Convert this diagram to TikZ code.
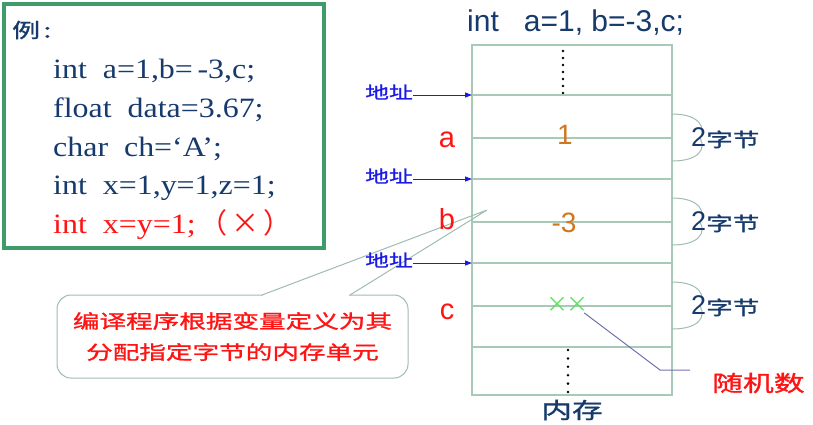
\documentclass[tikz,border=0pt]{standalone}
\usepackage{fontspec}
\setmainfont{Liberation Serif}[FakeStretch=1.14]
\newfontfamily\arialfont{Liberation Sans}
\newfontfamily\cjk[FakeStretch=1.4, FakeBold=1.2]{Noto Sans CJK SC}
\newfontfamily\cjkplain{Noto Sans CJK SC}
\usepackage{xcolor}
\usepackage{tikz}
\usetikzlibrary{arrows.meta}
\definecolor{codeblue}{HTML}{163A6C}
\definecolor{boxgreen}{HTML}{3F9B67}
\definecolor{tablegreen}{HTML}{A8C8B8}
\definecolor{bracegray}{HTML}{A0BCB0}
\definecolor{varred}{HTML}{FF1414}
\definecolor{valorange}{HTML}{D2761E}
\definecolor{arrowblue}{HTML}{1A1AE6}
\definecolor{crossgreen}{HTML}{66DD66}
\definecolor{randpurple}{HTML}{7070B0}
\tikzset{
codeline/.style = {anchor=base west, inner sep=0pt, text=codeblue, font=\fontsize{28}{28}\selectfont},
addr/.style = {anchor=east, inner sep=0pt, text=arrowblue, font=\cjk\fontsize{17}{17}\selectfont},
addrarrow/.style = {-{Triangle[length=7pt,width=5pt]}, draw=arrowblue, line width=1pt},
varname/.style = {inner sep=0pt, text=varred, font=\arialfont\fontsize{29}{29}\selectfont},
cellval/.style = {inner sep=0pt, text=valorange, font=\arialfont\fontsize{28}{28}\selectfont},
bytes/.style = {anchor=west, inner sep=0pt, text=codeblue, font=\cjk\fontsize{19}{19}\selectfont},
memline/.style = {draw=tablegreen, line width=1.2pt},
brace/.style = {draw=bracegray, line width=1pt},
}

\begin{document}
\begin{tikzpicture}[x=1pt, y=-1pt]
\useasboundingbox (0,0) rectangle (813,424);

% code example
\node[draw=boxgreen, line width=4pt, minimum width=320pt, minimum height=244pt, inner sep=0pt] (codebox) at (164,126) {};
\node[anchor=west, inner sep=0pt, text=codeblue, font=\cjk\fontsize{20}{20}\selectfont] (eg) at (12,30) {例\,:};
\node[codeline] (line1) at (53,78) {int\ \ a=1,b=\,-3,c;};
\node[codeline] (line2) at (53,117) {float\ \ data=3.67;};
\node[codeline] (line3) at (53,156) {char\ \ ch=‘A’;};
\node[codeline] (line4) at (53,194) {int\ \ x=1,y=1,z=1;};
\node[codeline, text=varred] (line5) at (53,233) {int\ \ x=y=1;\hspace{4pt}{\cjkplain （\hspace{4pt}{\fontsize{28}{28}\selectfont ×}\hspace{4pt}）}};

% memory
\node[anchor=base west, inner sep=0pt, text=codeblue, font=\arialfont\fontsize{30}{30}\selectfont] (title) at (467,31) {int\ \ \ a=1, b=-3,c;};
\node[draw=tablegreen, line width=1.2pt, minimum width=200pt, minimum height=350pt, inner sep=0pt] (mem) at (572,220) {};
\foreach \y in {51,58,...,93}
    \fill (563,\y) circle (1.4);
\foreach \y in {350,358.4,...,393}
    \fill (568,\y) circle (1.4);
\foreach \y in {95,138,179,222,263,306,347}
    \draw[memline] (472,\y) -- (672,\y);

% callout
\node[draw=bracegray, line width=1pt, fill=white, rounded corners=14pt, minimum width=351pt, minimum height=83pt, align=center, text=varred, font=\cjk\fontsize{19}{31}\selectfont] (note) at (232.5,336.5) {编译程序根据变量定义为其\\分配指定字节的内存单元};
\coordinate (tip) at (487,210);
\coordinate (pl) at (262,295);
\coordinate (pr) at (350,295);
\fill[white] (263,292) rectangle (349,298);
\draw[draw=bracegray, line width=1pt] (pl) -- (tip) -- (pr);

% addresses
\node[addr] (addr1) at (413,92) {地址};
\node[addr] (addr2) at (413,176) {地址};
\node[addr] (addr3) at (413,260) {地址};
\coordinate (in1) at (472,95);
\coordinate (in2) at (472,179);
\coordinate (in3) at (472,263);
\draw[addrarrow] (addr1.east |- in1) -- (in1);
\draw[addrarrow] (addr2.east |- in2) -- (in2);
\draw[addrarrow] (addr3.east |- in3) -- (in3);

\node[varname] (va) at (447,140) {a};
\node[varname] (vb) at (447,219) {b};
\node[varname] (vc) at (447,312) {c};
\node[cellval] (val1) at (565,135) {1};
\node[cellval] (val2) at (564,223) {-3};
\node[inner sep=0pt, text=crossgreen, font=\cjkplain\fontsize{22}{22}\selectfont] (rand) at (567,305) {×\hspace{-2pt}×};

% 2 bytes each
\foreach \y in {138,222,306} {
    \draw[brace] (672,\y-24) .. controls (700,\y-24) and (706,\y-10) .. (700,\y) .. controls (706,\y+10) and (700,\y+23) .. (672,\y+23);
    \node[bytes] at (691,\y) {{\arialfont\fontsize{27}{27}\selectfont 2}字节};
}

\coordinate (bend) at (660,370);
\coordinate (tail) at (690,370);
\draw[draw=randpurple, line width=1pt] ([xshift=-4pt]rand.south east) -- (bend) -- (tail);
\node[anchor=west, inner sep=0pt, text=varred, font=\cjk\fontsize{22}{22}\selectfont] (randtext) at (712,383) {随机数};
\node[inner sep=0pt, text=codeblue, font=\cjk\fontsize{22}{22}\selectfont] (memtext) at (572,410) {内存};

\end{tikzpicture}
\end{document}
